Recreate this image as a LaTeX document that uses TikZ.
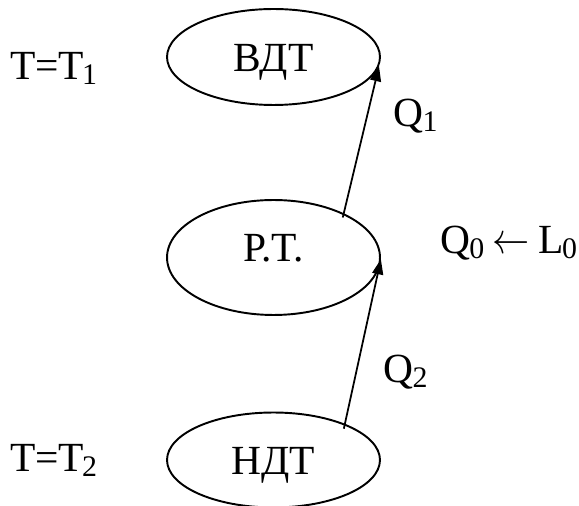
\documentclass[tikz,border=0pt]{standalone}
\usepackage{fontspec}
\setmainfont{Liberation Serif}
\usetikzlibrary{arrows.meta, shapes.geometric, calc}
\newcommand{\lowidx}[1]{\kern-0.03em\raisebox{-0.12em}{\fontsize{17}{17}\selectfont #1}}
\tikzset{
  every picture/.style={font=\fontsize{23.6}{28}\selectfont, line width=1.1pt},
  body/.style={draw, ellipse, inner sep=0pt, minimum width=4.26cm, text height=0.6cm, text depth=0cm},
  lbl/.style={anchor=base west, inner sep=0pt},
  flow/.style={-{Triangle[length=3mm, width=2.2mm]}, line width=1pt},
}

\begin{document}
\begin{tikzpicture}[x=0.02cm, y=-0.02cm]
  \useasboundingbox (0,0) rectangle (579,506);
  % bodies
  \node[body, minimum height=1.92cm] (vdt) at (273.5,57) {ВДТ};
  \node[body, minimum height=2.3cm, text height=0.7cm, text depth=0.55cm] (rt) at (273.5,257.5) {Р.Т.};
  \node[body, minimum height=1.9cm] (ndt) at (273.5,460) {НДТ};
  % temperatures
  \node[lbl] (t1) at (10,80) {T\kern-0.02em=\kern-0.02em T\lowidx{1}};
  \node[lbl] (t2) at (10,472) {T\kern-0.02em=\kern-0.02em T\lowidx{2}};
  % heat flows
  \coordinate (q1s) at ($(rt.center)!0.94!(rt.30)$);
  \coordinate (q2s) at ($(ndt.center)!0.92!(ndt.24)$);
  \draw[flow] (q1s) -- (vdt.-5);
  \draw[flow] (q2s) -- (rt.-1);
  \node[lbl] (q1) at (393,127) {Q\lowidx{1}};
  \node[lbl] (q2) at (383,383) {Q\lowidx{2}};
  \node[lbl, anchor=base east] (q0) at (578,254)
    {Q\lowidx{0}\hspace{0.2em}\scalebox{0.85}[1]{$\leftarrow$}\hspace{0.2em}L\lowidx{0}};
\end{tikzpicture}
\end{document}
